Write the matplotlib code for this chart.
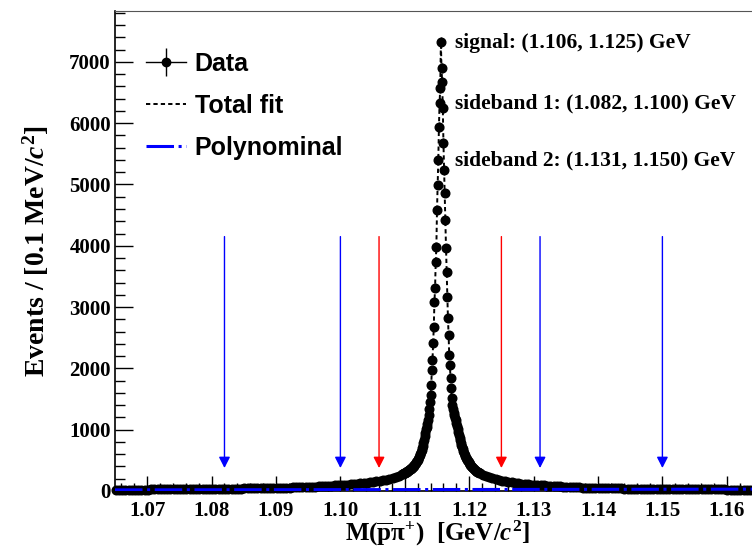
import numpy as np
import matplotlib
matplotlib.use("Agg")
import matplotlib.pyplot as plt
from matplotlib.lines import Line2D
from matplotlib.legend_handler import HandlerTuple
from matplotlib.ticker import MultipleLocator, FormatStrFormatter

plt.rcParams['font.family'] = 'Liberation Serif'
plt.rcParams['font.weight'] = 'bold'
plt.rcParams['axes.labelweight'] = 'bold'
plt.rcParams['mathtext.fontset'] = 'custom'
plt.rcParams['mathtext.rm'] = 'Liberation Serif:bold'
plt.rcParams['mathtext.it'] = 'Liberation Serif:italic'
plt.rcParams['mathtext.bf'] = 'Liberation Serif:bold'

# peak bin (0.1 MeV bins) and counts going away from it on each side
peak_center = 1.1156
peak_top = 7320
left_counts = [6570, 6330, 5940, 5400, 4990, 4580, 3980, 3735, 3310, 3080,
               2675, 2415, 2140, 1975, 1730, 1565, 1450, 1330, 1240, 1160,
               1100, 1050, 1015, 950, 895, 830, 785, 728, 700, 665,
               636, 605, 580, 562, 530, 510, 490, 470, 455, 446,
               425, 412, 400, 384, 380, 372, 365, 355, 348, 346,
               332, 325, 318, 312, 301, 300, 294, 292, 282, 277]
right_counts = [6900, 6670, 6250, 5680, 5235, 4860, 4420, 3965, 3570, 3165,
                2820, 2545, 2220, 2055, 1845, 1680, 1515, 1400, 1335, 1280,
                1235, 1195, 1160, 1110, 1060, 1010, 960, 913, 870, 830,
                790, 755, 720, 688, 655, 622, 594, 568, 545, 522,
                502, 484, 466, 450, 435, 421, 408, 396, 384, 373,
                362, 352, 343, 334, 326, 318, 311, 304, 297, 291]

# outer tails, every 0.5 MeV, going outwards
left_tail_start = 1.1091
left_tail = [245, 228, 212, 198, 185, 175, 166, 158, 150, 143,
             137, 131, 125, 119, 114, 109, 105, 101, 97, 93,
             90, 87, 84, 81, 78, 75, 73, 70, 68, 66,
             64, 62, 60, 58, 56, 55, 53, 52, 50, 49,
             48, 47, 46, 45, 44, 43, 42, 41, 41, 40,
             39, 38, 38, 37, 36, 36, 35, 35, 34, 34,
             33, 33, 32, 32, 31, 31, 30, 30, 29, 29,
             28, 28, 27, 27, 26, 26, 25, 25, 24, 24,
             23, 23, 22, 22, 21, 21, 20, 20, 19]
right_tail_start = 1.1221
right_tail = [262, 240, 221, 205, 192, 180, 168, 159, 150, 142,
              135, 128, 122, 116, 111, 106, 102, 98, 94, 90,
              87, 83, 80, 77, 74, 71, 68, 66, 63, 61,
              59, 57, 55, 53, 52, 50, 49, 48, 46, 45,
              44, 43, 42, 41, 40, 39, 38, 38, 37, 36,
              36, 35, 34, 34, 33, 33, 32, 32, 31, 31,
              30, 30, 29, 29, 28, 28, 28, 27, 27, 27,
              26, 26, 26, 25, 25, 25, 24, 24, 24, 23,
              23, 23, 23, 22, 22, 22, 22]

poly_mass = [1.065, 1.09, 1.115, 1.14, 1.165]
poly_counts = [18, 21, 24, 27, 30]

signal_win = (1.106, 1.125)
side1_win = (1.082, 1.100)
side2_win = (1.131, 1.150)

# assemble the spectrum
nl, nr = len(left_counts), len(right_counts)
m_left = peak_center - 0.0001 * np.arange(nl, 0, -1)
m_right = peak_center + 0.0001 * np.arange(1, nr + 1)
m_lt = left_tail_start - 0.0005 * np.arange(len(left_tail))[::-1]
m_rt = right_tail_start + 0.0005 * np.arange(len(right_tail))
mass = np.concatenate([m_lt, m_left, [peak_center], m_right, m_rt])
counts = np.concatenate([left_tail[::-1], left_counts[::-1], [peak_top],
                         right_counts, right_tail]).astype(float)

fig = plt.figure(figsize=(7.52, 5.47), dpi=100)
ax = fig.add_axes([115 / 752, 56 / 547, 644 / 752, 480 / 547])

# sideband / signal arrows
for lo_hi, col in [(side1_win, 'blue'), (side2_win, 'blue'), (signal_win, 'red')]:
    for xv in lo_hi:
        ax.annotate('', xy=(xv, 375), xytext=(xv, 4150),
                    arrowprops=dict(arrowstyle='-|>,head_length=0.55,head_width=0.28',
                                    color=col, lw=1.0, mutation_scale=12,
                                    shrinkA=0, shrinkB=0))

ax.plot(mass, counts, color='black', lw=1.4, dashes=(2.2, 1.6), zorder=3)
ax.errorbar(mass, counts, yerr=np.sqrt(counts), fmt='o', color='black',
            ms=6.2, elinewidth=1, capsize=0, zorder=3, clip_on=False)
ax.plot(poly_mass, poly_counts, color='blue', lw=2.2, dashes=(9, 1.5, 1, 1.5),
        zorder=4)

ax.set_xlim(1.065, 1.165)
ax.set_ylim(0, 7830)
ax.xaxis.set_major_locator(MultipleLocator(0.01))
ax.xaxis.set_minor_locator(MultipleLocator(0.002))
ax.yaxis.set_major_locator(MultipleLocator(1000))
ax.yaxis.set_minor_locator(MultipleLocator(200))
ax.xaxis.set_major_formatter(FormatStrFormatter('%.2f'))
ax.tick_params(axis='x', which='major', direction='in', length=11, width=1,
               labelsize=15, pad=7)
ax.tick_params(axis='x', which='minor', direction='in', length=5.5, width=1)
ax.tick_params(axis='y', which='major', direction='in', length=13, width=1,
               labelsize=15, pad=3)
ax.tick_params(axis='y', which='minor', direction='in', length=7, width=1)
for s in ['left', 'bottom']:
    ax.spines[s].set_linewidth(1.2)
ax.spines['top'].set_color('#555555')

ax.set_xlabel(r'M($\overline{\mathrm{p}}\mathrm{π}^{+}$)  [GeV/$c^{2}$]',
              fontsize=18)
ax.xaxis.set_label_coords(0.5, -0.058)
ax.set_ylabel(r'Events / [0.1 MeV/$c^{2}$]', fontsize=20)
ax.yaxis.set_label_coords(-0.1, 0.5)

for yv, name, win in [(7307, 'signal', signal_win),
                      (6328, 'sideband 1', side1_win),
                      (5399, 'sideband 2', side2_win)]:
    ax.text(1.1178, yv, '%s: (%.3f, %.3f) GeV' % (name, win[0], win[1]),
            fontsize=15.5, va='center')

h_data = (Line2D([0], [0], color='black', lw=1, marker='o', ms=6),
          Line2D([0], [0], color='black', ls='', marker='|', ms=20, mew=1))
h_fit = Line2D([0], [0], color='black', lw=1.4, dashes=(2.2, 1.6))
h_poly = Line2D([0], [0], color='blue', lw=2.2, dashes=(9, 1.5, 1, 1.5))
ax.legend([h_data, h_fit, h_poly], ['Data', 'Total fit', 'Polynominal'],
          handler_map={tuple: HandlerTuple(ndivide=1)},
          loc='upper left', bbox_to_anchor=(0.048, 0.915), frameon=False,
          borderpad=0, borderaxespad=0, handlelength=1.6, handletextpad=0.35,
          labelspacing=0.72, prop={'family': 'Liberation Sans', 'weight': 'bold',
                                   'size': 18})

fig.savefig('out.png', dpi=100)
